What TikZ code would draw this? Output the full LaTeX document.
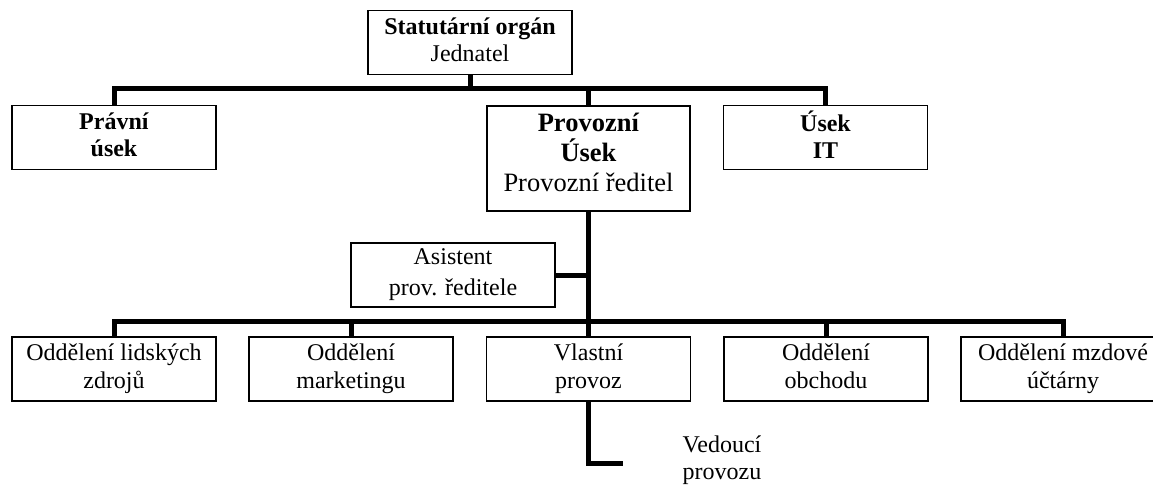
\documentclass[tikz,border=0pt]{standalone}
\usepackage{fontspec}
\setmainfont{Liberation Serif}
\newcommand{\topstrut}{\rule{0pt}{18pt}}
\newcommand{\botstrut}{\rule[-5.5pt]{0pt}{5.5pt}}
\tikzset{
  box/.style={draw, line width=1.5pt, minimum width=204pt, minimum height=64pt, inner sep=0pt, align=center, font=\fontsize{24}{27.5}\selectfont, execute at begin node=\topstrut, execute at end node=\botstrut},
  bigbox/.style={draw, line width=1.5pt, minimum width=203pt, minimum height=105pt, inner sep=0pt, align=center, font=\fontsize{26.5}{30}\selectfont, execute at begin node=\rule{0pt}{20pt}, execute at end node=\rule[-13pt]{0pt}{13pt}},
  plain/.style={inner sep=0pt, align=center, font=\fontsize{24}{27}\selectfont, execute at begin node=\topstrut, execute at end node=\botstrut},
  conn/.style={line width=5pt, line join=miter},
}
\begin{document}
\begin{tikzpicture}[x=1pt, y=-1pt]
\useasboundingbox (0,0) rectangle (1153,485);
\clip (0,0) rectangle (1153,485);
\node[box] (top) at (470,42.5) {\textbf{Statutární orgán}\\Jednatel};
\node[box] (pravni) at (114,137.5) {\textbf{Právní}\\\textbf{úsek}};
\node[bigbox] (prov) at (588.5,158.5) {\textbf{Provozní}\\\textbf{Úsek}\\Provozní ředitel};
\node[box] (it) at (825.5,137.5) {\textbf{Úsek}\\\textbf{IT}};
\node[box, font=\fontsize{24}{31}\selectfont] (asist) at (453,275) {Asistent\\prov. ředitele};
\node[box] (b1) at (114,369) {Oddělení lidských\\zdrojů};
\node[box] (b2) at (351,369) {Oddělení\\marketingu};
\node[box] (b3) at (588.5,369) {Vlastní\\provoz};
\node[box] (b4) at (826,369) {Oddělení\\obchodu};
\node[box] (b5) at (1063,369) {Oddělení mzdové\\účtárny};
\node[plain] (ved) at (722,460) {Vedoucí\\provozu};
% connectors
\draw[conn] (top.south) -- ++(0,16);
\draw[conn] (pravni.north) -- ++(0,-16) -| (it.north);
\draw[conn] (prov.north) -- ++(0,-16);
\draw[conn] (prov.south) -- (b3.north);
\draw[conn] (asist.east) -- (asist.east -| prov.south);
\draw[conn] (b1.north) -- ++(0,-15) -| (b5.north);
\draw[conn] (b2.north) -- ++(0,-15);
\draw[conn] (b4.north) -- ++(0,-15);
\draw[conn] (b3.south) -- ++(0,62) -- ++(34,0) coordinate (vedend);
\end{tikzpicture}
\end{document}
